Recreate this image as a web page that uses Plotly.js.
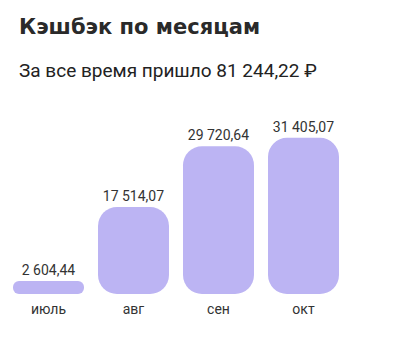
<!DOCTYPE html>
<html><head><meta charset="utf-8">
<script src="https://cdn.plot.ly/plotly-3.0.1.min.js"></script>
<style>html,body{margin:0;padding:0;background:#fff}#c{width:420px;height:339px}</style>
</head><body><div id="c"></div>
<script>
const months = ['июль', 'авг', 'сен', 'окт'];
const cashback = [2604.44, 17514.07, 29720.64, 31405.07];
const labels = ['2 604,44', '17 514,07', '29 720,64', '31 405,07'];
const titleText = 'Кэшбэк по месяцам';
const subtitleText = 'За все время пришло 81 244,22 ₽';

// an explicit zero base makes Plotly round both ends of each bar
const zeroBase = cashback.map(() => 0);
const barColor = '#bcb4f3';

Plotly.newPlot('c', [{
  type: 'bar', x: months, y: cashback, base: zeroBase, text: labels,
  textposition: 'outside', cliponaxis: false, hoverinfo: 'none',
  textfont: {family: 'Roboto', size: 14, color: '#333'},
  marker: {color: barColor, cornerradius: 19}
}], {
  width: 420, height: 339,
  margin: {l: 6, r: 74, t: 120, b: 45},
  paper_bgcolor: '#fff', plot_bgcolor: '#fff',
  bargap: 0.165, showlegend: false,
  xaxis: {showgrid: false, zeroline: false, showline: false, ticks: '', ticklabelstandoff: 5,
          tickfont: {family: 'Roboto', size: 14, color: '#333'}},
  yaxis: {visible: false, range: [0, 35000]},
  annotations: [
    {text: '<b>' + titleText + '</b>', xref: 'paper', yref: 'paper', x: 0.032, y: 1.534, xanchor: 'left', yanchor: 'middle',
     showarrow: false, font: {family: 'DejaVu Sans', size: 21, color: '#2a2a2a'}},
    {text: subtitleText, xref: 'paper', yref: 'paper', x: 0.032, y: 1.282, xanchor: 'left', yanchor: 'middle',
     showarrow: false, font: {family: 'Roboto', size: 19, color: '#222'}}
  ]
}, {staticPlot: true});
</script></body></html>
